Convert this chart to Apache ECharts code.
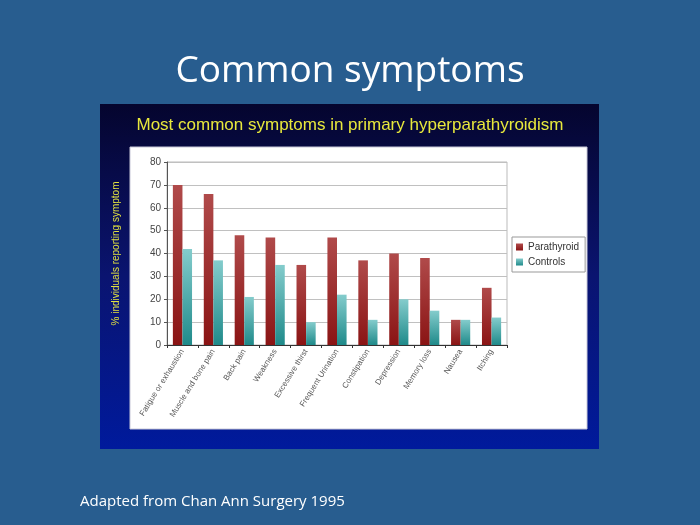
<!DOCTYPE html>
<html><head><meta charset="utf-8">
<script src="https://cdn.jsdelivr.net/npm/echarts@6/dist/echarts.min.js"></script>
<style>html,body{margin:0;padding:0;background:#285d8f}#c{width:700px;height:525px}</style>
</head><body><div id="c"></div>
<script>
const categories = ["Fatigue or exhaustion","Muscle and bone pain","Back pain","Weakness","Excessive thirst","Frequent Urination","Constipation","Depression","Memory loss","Nausea","Itching"];
const parathyroid = [70, 66, 48, 47, 35, 47, 37, 40, 38, 11, 25];
const controls = [42, 37, 21, 35, 10, 22, 11, 20, 15, 11, 12];
const seriesNames = ["Parathyroid", "Controls"];

const chart = echarts.init(document.getElementById('c'), null, {renderer: 'canvas'});
chart.setOption({
  backgroundColor: '#285d8f',
  animation: false,
  graphic: [
    {type: 'rect', z: -10, shape: {x: 100, y: 104, width: 499, height: 345},
     style: {fill: new echarts.graphic.LinearGradient(0, 0, 0, 1, [
       {offset: 0, color: '#05052e'}, {offset: 0.5, color: '#0a1470'}, {offset: 1, color: '#001a9c'}])}},
    {type: 'rect', z: -9, shape: {x: 130, y: 147, width: 457, height: 282},
     style: {fill: '#ffffff', stroke: '#c8c8d8', lineWidth: 1}}
  ],
  title: [
    {text: 'Common symptoms', left: 'center', top: 48,
     textStyle: {color: '#ffffff', fontSize: 37, fontWeight: 'normal', fontFamily: 'Open Sans'}},
    {text: 'Most common symptoms in primary hyperparathyroidism', left: 'center', top: 112,
     textStyle: {color: '#e8e83c', fontSize: 17, fontWeight: 'normal', fontFamily: 'Liberation Sans'}},
    {text: 'Adapted from Chan Ann Surgery 1995', left: 75, top: 489,
     textStyle: {color: '#ffffff', fontSize: 15, fontWeight: 'normal', fontFamily: 'Open Sans'}}
  ],
  legend: {
    orient: 'vertical', left: 512, top: 237, data: seriesNames,
    itemWidth: 7, itemHeight: 7, itemGap: 5, icon: 'rect',
    borderColor: '#999', borderWidth: 1, padding: [5, 6, 5, 4],
    textStyle: {fontSize: 10, color: '#333', fontFamily: 'Liberation Sans'}
  },
  grid: {left: 167, right: 193, top: 162, bottom: 180, show: true,
         borderColor: '#bbb', borderWidth: 1, backgroundColor: 'transparent'},
  xAxis: {
    type: 'category', data: categories,
    axisLine: {lineStyle: {color: '#333'}},
    axisTick: {show: true, alignWithLabel: false, length: 3, lineStyle: {color: '#333'}},
    axisLabel: {rotate: 58, fontSize: 8, color: '#555', margin: 5, fontFamily: 'Liberation Sans', interval: 0}
  },
  yAxis: {
    type: 'value', min: 0, max: 80, interval: 10,
    name: '% individuals reporting symptom', nameLocation: 'middle', nameGap: 46,
    nameTextStyle: {color: '#e0e040', fontSize: 10, fontFamily: 'Liberation Sans'},
    axisLine: {show: true, lineStyle: {color: '#555'}},
    axisTick: {show: true, length: 3, lineStyle: {color: '#555'}},
    axisLabel: {fontSize: 10, color: '#444', margin: 6, fontFamily: 'Liberation Sans'},
    splitLine: {lineStyle: {color: '#c0c0c0'}}
  },
  series: [
    {name: seriesNames[0], type: 'bar', data: parathyroid, barGap: '0%', barCategoryGap: '38%',
     itemStyle: {color: new echarts.graphic.LinearGradient(0, 0, 0, 1, [
       {offset: 0, color: '#b04a4a'}, {offset: 1, color: '#8a1414'}])}},
    {name: seriesNames[1], type: 'bar', data: controls,
     itemStyle: {color: new echarts.graphic.LinearGradient(0, 0, 0, 1, [
       {offset: 0, color: '#84cccc'}, {offset: 1, color: '#1f8a8a'}])}}
  ]
});
</script></body></html>
